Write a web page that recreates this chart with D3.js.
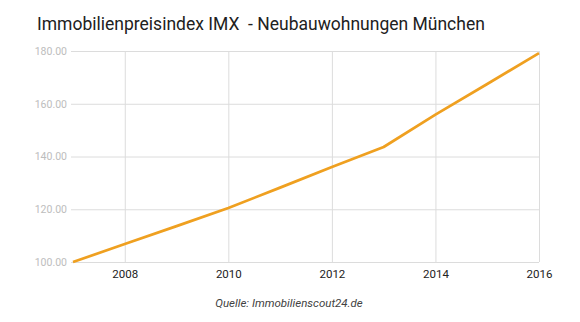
<!DOCTYPE html>
<html>
<head>
<meta charset="utf-8">
<script src="https://cdn.jsdelivr.net/npm/d3@7/dist/d3.min.js"></script>
<style>
  html, body { margin: 0; padding: 0; background: #fff; }
  svg { display: block; font-family: Roboto, "Noto Sans", sans-serif; }
</style>
</head>
<body>
<script>
// Price index for new-build flats in Munich (2007 = 100)
const years = [2007, 2008, 2009, 2010, 2011, 2012, 2013, 2014, 2015, 2016];
const indexValues = [100, 106.8, 113.6, 120.5, 128.2, 136.0, 143.6, 155.9, 167.5, 179.2];
const xTickYears = [2008, 2010, 2012, 2014, 2016];
const yTickValues = [100, 120, 140, 160, 180];
const titleText = "Immobilienpreisindex IMX  - Neubauwohnungen München";
const sourceText = "Quelle: Immobilienscout24.de";

const W = 580, H = 322;
const svg = d3.select("body").append("svg").attr("width", W).attr("height", H);

const x = d3.scaleLinear().domain([2007, 2016]).range([73, 539]);
const y = d3.scaleLinear().domain([100, 180]).range([262, 51]);
const gridLeft = 71;

// Title
svg.append("text")
  .attr("x", 37).attr("y", 30)
  .style("white-space", "pre")
  .attr("font-size", 17.5).attr("fill", "#212121")
  .text(titleText);

// Horizontal grid + y labels
const yAxis = d3.axisLeft(y).tickValues(yTickValues)
  .tickSize(-(x.range()[1] - gridLeft)).tickPadding(4)
  .tickFormat(d3.format(".2f"));
const gy = svg.append("g").attr("transform", `translate(${gridLeft},0)`).call(yAxis);
gy.select(".domain").remove();
gy.selectAll(".tick line").attr("stroke", "#dcdcdc").attr("stroke-width", 1);
gy.selectAll(".tick text").attr("fill", "#bdbdbd").attr("font-size", 10.5)
  .attr("font-family", "Roboto, sans-serif").attr("x", -4);

// Vertical grid + x labels
const xAxis = d3.axisBottom(x).tickValues(xTickYears)
  .tickSize(-(y.range()[0] - y.range()[1])).tickPadding(8)
  .tickFormat(d3.format("d"));
const gx = svg.append("g").attr("transform", `translate(0,${y.range()[0]})`).call(xAxis);
gx.select(".domain").remove();
gx.selectAll(".tick line").attr("stroke", "#dcdcdc").attr("stroke-width", 1);
gx.selectAll(".tick text").attr("fill", "#222").attr("font-size", 11.5)
  .attr("font-family", "Roboto, sans-serif");

// Index line
const line = d3.line().x((d, i) => x(years[i])).y(d => y(d));
svg.append("path")
  .datum(indexValues)
  .attr("d", line)
  .attr("fill", "none")
  .attr("stroke", "#EFA020")
  .attr("stroke-width", 2.7)
  .attr("stroke-linejoin", "round");

// Source note
svg.append("text")
  .attr("x", 289).attr("y", 307)
  .attr("text-anchor", "middle")
  .attr("font-size", 11.5).attr("font-style", "italic").attr("fill", "#424242")
  .text(sourceText);
</script>
</body>
</html>
